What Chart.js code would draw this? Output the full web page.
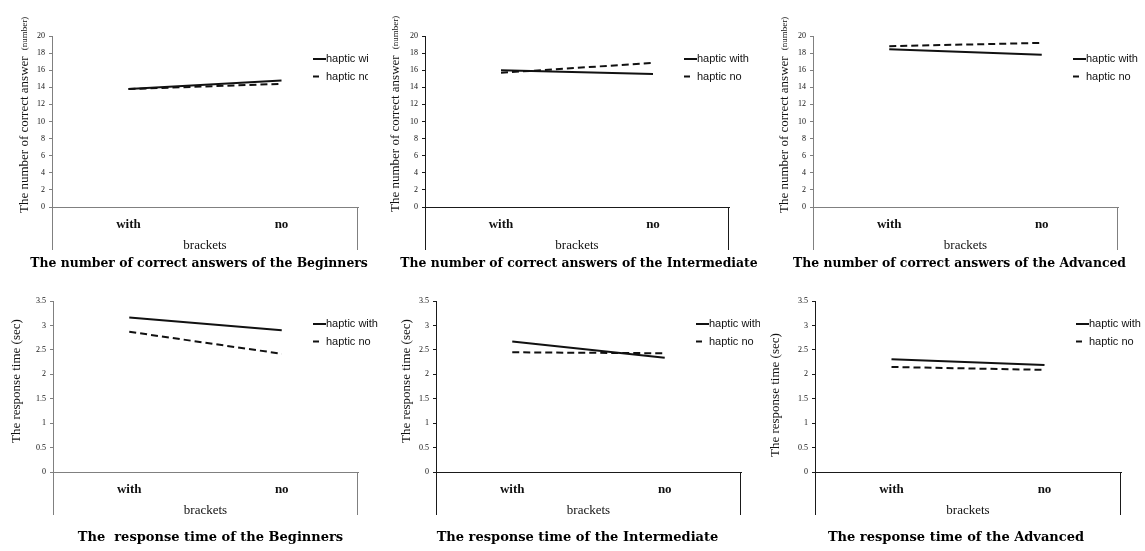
<!DOCTYPE html>
<html>
<head>
<meta charset="utf-8">
<script src="https://cdn.jsdelivr.net/npm/chart.js@4"></script>
<style>
  body { margin: 0; background: #fff; width: 1145px; height: 551px; position: relative; overflow: hidden; }
  canvas { position: absolute; }
</style>
</head>
<body>
<canvas id="c1"></canvas>
<canvas id="c2"></canvas>
<canvas id="c3"></canvas>
<canvas id="c4"></canvas>
<canvas id="c5"></canvas>
<canvas id="c6"></canvas>
<script>
// data
const categories = ['with', 'no'];
const seriesNames = ['haptic with', 'haptic no'];
const countTicks = [0, 2, 4, 6, 8, 10, 12, 14, 16, 18, 20];
const timeTicks = [0, 0.5, 1, 1.5, 2, 2.5, 3, 3.5];

const beginnersCorrectWith = [13.8, 14.8];
const beginnersCorrectNo = [13.8, 14.4];
const intermediateCorrectWith = [16.0, 15.55];
const intermediateCorrectNo = [15.7, 16.85];
const advancedCorrectWith = [18.45, 17.8];
const advancedCorrectNo = [18.8, 19.2];

const beginnersTimeWith = [3.16, 2.9];
const beginnersTimeNo = [2.87, 2.42];
const intermediateTimeWith = [2.67, 2.34];
const intermediateTimeNo = [2.45, 2.43];
const advancedTimeWith = [2.31, 2.19];
const advancedTimeNo = [2.15, 2.09];

const serif = "'Liberation Serif', 'DejaVu Serif', serif";
const wideSerif = "'DejaVu Serif', 'Liberation Serif', serif";
const sans = "'Liberation Sans', Arial, sans-serif";

// extra lines under the axis, y title with mixed sizes, the legend sitting on the plot, and the caption
const panelDecor = {
  id: 'panelDecor',
  afterDraw(chart, args, opts) {
    const ctx = chart.ctx;
    const a = chart.chartArea;
    ctx.save();
    // verticals going down below the x axis
    ctx.strokeStyle = opts.axisColor;
    ctx.lineWidth = 1;
    ctx.beginPath();
    ctx.moveTo(Math.round(a.left) + 0.5, a.bottom);
    ctx.lineTo(Math.round(a.left) + 0.5, a.bottom + 43);
    ctx.moveTo(Math.round(a.right) - 0.5, a.bottom);
    ctx.lineTo(Math.round(a.right) - 0.5, a.bottom + 43);
    ctx.stroke();

    // caption under the chart
    ctx.fillStyle = '#000';
    ctx.font = 'bold ' + opts.captionSize + 'px ' + wideSerif;
    ctx.textAlign = 'center';
    ctx.textBaseline = 'middle';
    ctx.fillText(opts.caption, (a.left + a.right) / 2 + opts.captionDx, a.bottom + opts.captionDy);

    // y axis title
    ctx.fillStyle = '#111';
    ctx.translate(a.left + opts.yTitleDx, a.bottom + opts.yTitleDy);
    ctx.rotate(-Math.PI / 2);
    ctx.textAlign = 'left';
    ctx.font = '13px ' + serif;
    ctx.fillText(opts.yTitle, 0, 0);
    if (opts.yUnit) {
      const w = ctx.measureText(opts.yTitle).width;
      ctx.font = '9px ' + serif;
      ctx.fillText(opts.yUnit, w + 6, 0);
    }
    ctx.restore();

    // legend
    ctx.save();
    const lx = a.right - 45;
    chart.data.datasets.forEach(function(ds, i) {
      const ly = a.top + 23 + i * 17.5;
      ctx.strokeStyle = '#111';
      ctx.lineWidth = 2;
      ctx.beginPath();
      ctx.moveTo(lx, ly);
      ctx.lineTo(lx + (ds.borderDash && ds.borderDash.length ? 6 : 13), ly);
      ctx.stroke();
      ctx.fillStyle = '#111';
      ctx.font = '11px ' + sans;
      ctx.textAlign = 'left';
      ctx.textBaseline = 'middle';
      ctx.fillText(ds.label, lx + 13, ly);
    });
    ctx.restore();
  }
};

const panels = [
  { id: 'c1', x: 0, y: 0, w: 368, h: 275, left: 52, right: 358, top: 36, bottom: 207,
    withVals: beginnersCorrectWith, noVals: beginnersCorrectNo, ticks: countTicks,
    caption: 'The number of correct answers of the Beginners', captionDx: -6, captionDy: 56.5, captionSize: 12.4,
    yTitle: 'The number of correct answer', yUnit: '(number)', yTitleDx: -27, yTitleDy: 6, axisColor: '#808080' },
  { id: 'c2', x: 380, y: 0, w: 380, h: 275, left: 425, right: 729, top: 36, bottom: 207,
    withVals: intermediateCorrectWith, noVals: intermediateCorrectNo, ticks: countTicks,
    caption: 'The number of correct answers of the Intermediate', captionDx: 2, captionDy: 56.5, captionSize: 12.4,
    yTitle: 'The number of correct answer', yUnit: '(number)', yTitleDx: -29, yTitleDy: 5, axisColor: '#1a1a1a' },
  { id: 'c3', x: 760, y: 0, w: 385, h: 275, left: 813, right: 1118, top: 36, bottom: 207,
    withVals: advancedCorrectWith, noVals: advancedCorrectNo, ticks: countTicks,
    caption: 'The number of correct answers of the Advanced', captionDx: -6, captionDy: 56.5, captionSize: 12.4,
    yTitle: 'The number of correct answer', yUnit: '(number)', yTitleDx: -28, yTitleDy: 6, axisColor: '#808080' },
  { id: 'c4', x: 0, y: 275, w: 380, h: 276, left: 53, right: 358, top: 301, bottom: 472,
    withVals: beginnersTimeWith, noVals: beginnersTimeNo, ticks: timeTicks,
    caption: 'The  response time of the Beginners', captionDx: 5, captionDy: 65.5, captionSize: 13,
    yTitle: 'The response time (sec)', yUnit: '', yTitleDx: -36, yTitleDy: -29, axisColor: '#808080' },
  { id: 'c5', x: 380, y: 275, w: 380, h: 276, left: 436, right: 741, top: 301, bottom: 472,
    withVals: intermediateTimeWith, noVals: intermediateTimeNo, ticks: timeTicks,
    caption: 'The response time of the Intermediate', captionDx: -11, captionDy: 65.5, captionSize: 13,
    yTitle: 'The response time (sec)', yUnit: '', yTitleDx: -29, yTitleDy: -29, axisColor: '#1a1a1a' },
  { id: 'c6', x: 760, y: 275, w: 385, h: 276, left: 815, right: 1121, top: 301, bottom: 472,
    withVals: advancedTimeWith, noVals: advancedTimeNo, ticks: timeTicks,
    caption: 'The response time of the Advanced', captionDx: -12, captionDy: 65.5, captionSize: 13,
    yTitle: 'The response time (sec)', yUnit: '', yTitleDx: -39, yTitleDy: -15, axisColor: '#1a1a1a' }
];

const xScaleHeight = 45;

panels.forEach(function(p) {
  const canvas = document.getElementById(p.id);
  canvas.width = p.w;
  canvas.height = p.h;
  canvas.style.left = p.x + 'px';
  canvas.style.top = p.y + 'px';

  const padTop = p.top - p.y;
  const plotH = p.bottom - p.top;
  const padBottom = p.h - padTop - plotH - xScaleHeight;
  const tickValues = p.ticks;

  new Chart(canvas, {
    type: 'line',
    plugins: [panelDecor],
    data: {
      labels: categories,
      datasets: [
        {
          label: seriesNames[0],
          data: p.withVals,
          borderColor: '#111',
          borderWidth: 2,
          pointRadius: 0,
          tension: 0
        },
        {
          label: seriesNames[1],
          data: p.noVals,
          borderColor: '#111',
          borderWidth: 2,
          borderDash: [7, 4],
          pointRadius: 0,
          tension: 0
        }
      ]
    },
    options: {
      responsive: false,
      maintainAspectRatio: false,
      animation: false,
      devicePixelRatio: 1,
      layout: {
        padding: { left: 0, top: padTop, right: p.x + p.w - p.right, bottom: padBottom }
      },
      plugins: {
        legend: { display: false },
        tooltip: { enabled: false },
        title: { display: false },
        panelDecor: {
          axisColor: p.axisColor,
          caption: p.caption,
          captionDx: p.captionDx,
          captionDy: p.captionDy,
          captionSize: p.captionSize,
          yTitle: p.yTitle,
          yUnit: p.yUnit,
          yTitleDx: p.yTitleDx,
          yTitleDy: p.yTitleDy
        }
      },
      scales: {
        x: {
          type: 'category',
          offset: true,
          afterFit(scale) { scale.height = xScaleHeight; },
          grid: { display: false, drawTicks: false },
          border: { display: true, color: p.axisColor, width: 1 },
          ticks: {
            color: '#111',
            padding: 10,
            maxRotation: 0,
            font: { family: serif, size: 13, weight: 'bold' }
          },
          title: {
            display: true,
            text: 'brackets',
            color: '#111',
            font: { family: serif, size: 13, lineHeight: 1 },
            padding: { top: 0, bottom: 0 }
          }
        },
        y: {
          min: tickValues[0],
          max: tickValues[tickValues.length - 1],
          afterFit(scale) { scale.width = p.left - p.x; },
          afterBuildTicks(scale) {
            scale.ticks = tickValues.map(v => ({ value: v }));
          },
          grid: {
            display: true,
            drawOnChartArea: false,
            drawTicks: true,
            tickLength: 3,
            color: p.axisColor
          },
          border: { display: true, color: p.axisColor, width: 1 },
          ticks: {
            color: '#111',
            padding: 4,
            font: { family: serif, size: 8 },
            callback: v => String(v)
          }
        }
      }
    }
  });
});
</script>
</body>
</html>
